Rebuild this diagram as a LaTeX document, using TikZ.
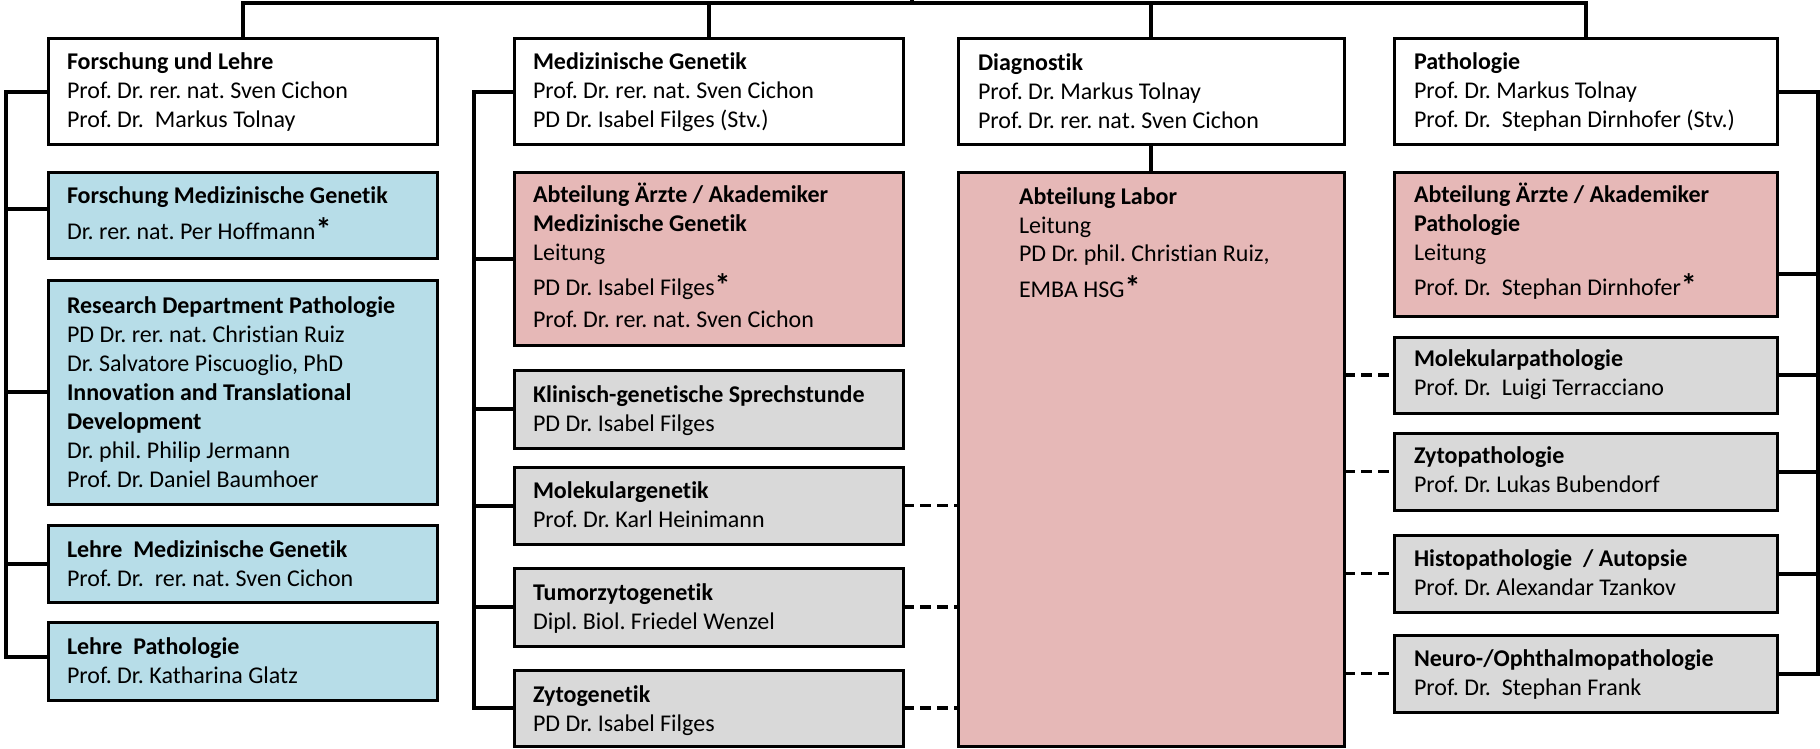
\documentclass[tikz,border=0pt]{standalone}
\usepackage{fontspec}
\setmainfont{Carlito}[Ligatures=NoCommon]
\usetikzlibrary{backgrounds}
\definecolor{bluefill}{HTML}{B7DDE8}
\definecolor{pinkfill}{HTML}{E6B8B7}
\definecolor{grayfill}{HTML}{D9D9D9}
\newcommand\stern{\smash{\raisebox{-1pt}{\fontsize{32}{32}\selectfont\bfseries *}}}
\newcommand\btxt[1]{\parbox[t]{380pt}{\fontsize{24}{29}\selectfont\frenchspacing\raggedright #1}}
\begin{document}
\begin{tikzpicture}[x=1pt,y=-1pt,
  box/.style={draw=black, line width=3pt, anchor=north west, inner sep=0pt, outer sep=0pt, rectangle},
  wbox/.style={box, fill=white},
  bbox/.style={box, fill=bluefill},
  pbox/.style={box, fill=pinkfill},
  gbox/.style={box, fill=grayfill},
  txt/.style={anchor=base west, inner sep=0pt, outer sep=0pt},
  conn/.style={line width=4pt},
  dconn/.style={line width=3.5pt, dash pattern=on 11pt off 6pt}]
\useasboundingbox (0,0) rectangle (1820,749);

% column 1
\node[wbox, minimum width=389pt, minimum height=106pt] (fl)  at (48,39) {};
\node[bbox, minimum width=389pt, minimum height=86pt]  (fmg) at (48,172) {};
\node[bbox, minimum width=389pt, minimum height=224pt] (rdp) at (48,280) {};
\node[bbox, minimum width=389pt, minimum height=77pt]  (lmg) at (48,525) {};
\node[bbox, minimum width=389pt, minimum height=78pt]  (lp)  at (48,622) {};
% column 2
\node[wbox, minimum width=389pt, minimum height=106pt] (mg)   at (514,39) {};
\node[pbox, minimum width=389pt, minimum height=173pt] (aam)  at (514,172) {};
\node[gbox, minimum width=389pt, minimum height=78pt]  (kgs)  at (514,370) {};
\node[gbox, minimum width=389pt, minimum height=77pt]  (molg) at (514,467) {};
\node[gbox, minimum width=389pt, minimum height=78pt]  (tzg)  at (514,568) {};
\node[gbox, minimum width=389pt, minimum height=76pt]  (zg)   at (514,670) {};
% column 3
\node[wbox, minimum width=386pt, minimum height=106pt] (dia) at (958,39) {};
\node[pbox, minimum width=386pt, minimum height=574pt] (lab) at (958,172) {};
% column 4
\node[wbox, minimum width=383pt, minimum height=106pt] (pat) at (1394,39) {};
\node[pbox, minimum width=383pt, minimum height=144pt] (aap) at (1394,172) {};
\node[gbox, minimum width=383pt, minimum height=76pt]  (mp)  at (1394,337) {};
\node[gbox, minimum width=383pt, minimum height=77pt]  (zp)  at (1394,433) {};
\node[gbox, minimum width=383pt, minimum height=77pt]  (hp)  at (1394,535) {};
\node[gbox, minimum width=383pt, minimum height=77pt]  (np)  at (1394,635) {};

% texts column 1
\node[txt] (flt) at ([xshift=19pt,yshift=-31pt]fl.north west) {\btxt{\textbf{Forschung und Lehre}\\ Prof. Dr. rer. nat. Sven Cichon\\ Prof. Dr.\ \ Markus Tolnay}};
\node[txt] (fmgt) at ([xshift=19pt,yshift=-31pt]fmg.north west) {\btxt{\textbf{Forschung Medizinische Genetik}\\[7pt] Dr. rer. nat. Per Hoffmann\stern}};
\node[txt] (rdpt) at ([xshift=19pt,yshift=-33pt]rdp.north west) {\btxt{\textbf{Research Department Pathologie}\\ PD Dr. rer. nat. Christian Ruiz\\ Dr. Salvatore Piscuoglio, PhD\\ \textbf{Innovation and Translational}\\ \textbf{Development}\\ Dr. phil. Philip Jermann\\ Prof. Dr. Daniel Baumhoer}};
\node[txt] (lmgt) at ([xshift=19pt,yshift=-32pt]lmg.north west) {\btxt{\textbf{Lehre\ \ Medizinische Genetik}\\ Prof. Dr.\ \ rer. nat. Sven Cichon}};
\node[txt] (lpt) at ([xshift=19pt,yshift=-32pt]lp.north west) {\btxt{\textbf{Lehre\ \ Pathologie}\\ Prof. Dr. Katharina Glatz}};
% texts column 2
\node[txt] (mgt) at ([xshift=19pt,yshift=-31pt]mg.north west) {\btxt{\textbf{Medizinische Genetik}\\ Prof. Dr. rer. nat. Sven Cichon\\ PD Dr. Isabel Filges (Stv.)}};
\node[txt] (aamt) at ([xshift=19pt,yshift=-30pt]aam.north west) {\btxt{\textbf{Abteilung Ärzte / Akademiker}\\ \textbf{Medizinische Genetik}\\ Leitung\\[6pt] PD Dr. Isabel Filges\stern\\[3pt] Prof. Dr. rer. nat. Sven Cichon}};
\node[txt] (kgst) at ([xshift=19pt,yshift=-32pt]kgs.north west) {\btxt{\textbf{Klinisch-genetische Sprechstunde}\\ PD Dr. Isabel Filges}};
\node[txt] (molgt) at ([xshift=19pt,yshift=-31pt]molg.north west) {\btxt{\textbf{Molekulargenetik}\\ Prof. Dr. Karl Heinimann}};
\node[txt] (tzgt) at ([xshift=19pt,yshift=-32pt]tzg.north west) {\btxt{\textbf{Tumorzytogenetik}\\ Dipl. Biol. Friedel Wenzel}};
\node[txt] (zgt) at ([xshift=19pt,yshift=-32pt]zg.north west) {\btxt{\textbf{Zytogenetik}\\ PD Dr. Isabel Filges}};
% texts column 3
\node[txt] (diat) at ([xshift=20pt,yshift=-32pt]dia.north west) {\btxt{\textbf{Diagnostik}\\ Prof. Dr. Markus Tolnay\\ Prof. Dr. rer. nat. Sven Cichon}};
\node[txt] (labt) at ([xshift=61pt,yshift=-32pt]lab.north west) {\btxt{\textbf{Abteilung Labor}\\ Leitung\\ PD Dr. phil. Christian Ruiz,\\[6pt] EMBA HSG\stern}};
% texts column 4
\node[txt] (patt) at ([xshift=20pt,yshift=-31pt]pat.north west) {\btxt{\textbf{Pathologie}\\ Prof. Dr. Markus Tolnay\\ Prof. Dr.\ \ Stephan Dirnhofer (Stv.)}};
\node[txt] (aapt) at ([xshift=20pt,yshift=-30pt]aap.north west) {\btxt{\textbf{Abteilung Ärzte / Akademiker}\\ \textbf{Pathologie}\\ Leitung\\[6pt] Prof. Dr.\ \ Stephan Dirnhofer\stern}};
\node[txt] (mpt) at ([xshift=20pt,yshift=-29pt]mp.north west) {\btxt{\textbf{Molekularpathologie}\\ Prof. Dr.\ \ Luigi Terracciano}};
\node[txt] (zpt) at ([xshift=20pt,yshift=-30pt]zp.north west) {\btxt{\textbf{Zytopathologie}\\ Prof. Dr. Lukas Bubendorf}};
\node[txt] (hpt) at ([xshift=20pt,yshift=-31pt]hp.north west) {\btxt{\textbf{Histopathologie\ \ / Autopsie}\\ Prof. Dr. Alexandar Tzankov}};
\node[txt] (npt) at ([xshift=20pt,yshift=-31pt]np.north west) {\btxt{\textbf{Neuro-/Ophthalmopathologie}\\ Prof. Dr.\ \ Stephan Frank}};

\begin{scope}[on background layer]
% top bar
\coordinate (topbar) at (912,3);
\coordinate (topend) at (912,0);
\draw[conn] (fl.north) -- (fl.north |- topbar) -- (pat.north |- topbar) -- (pat.north);
\draw[conn] (mg.north) -- (mg.north |- topbar);
\draw[conn] (dia.north) -- (dia.north |- topbar);
\draw[conn] (topend) -- (topbar);
\draw[conn] (dia.south) -- (lab.north);
% left bus
\coordinate (lbus) at (6,0);
\coordinate (fmgw) at ([yshift=6pt]fmg.west);
\coordinate (lpw) at ([yshift=4pt]lp.west);
\draw[conn] (fl.west) -- (fl.west -| lbus) -- (lpw -| lbus) -- (lpw);
\draw[conn] (fmgw) -- (fmgw -| lbus);
\draw[conn] (rdp.west) -- (rdp.west -| lbus);
\draw[conn] (lmg.west) -- (lmg.west -| lbus);
% middle bus
\coordinate (mbus) at (474,0);
\draw[conn] (mg.west) -- (mg.west -| mbus) -- (zg.west -| mbus) -- (zg.west);
\foreach \n in {aam,kgs,molg,tzg} \draw[conn] (\n.west) -- (\n.west -| mbus);
% right bus
\coordinate (rbus) at (1818,0);
\coordinate (aape) at ([yshift=-30pt]aap.east);
\draw[conn] (pat.east) -- (pat.east -| rbus) -- (np.east -| rbus) -- (np.east);
\draw[conn] (aape) -- (aape -| rbus);
\foreach \n in {mp,zp,hp} \draw[conn] (\n.east) -- (\n.east -| rbus);
% dashed links to Labor
\foreach \n in {molg,tzg,zg} \draw[dconn] (\n.east) -- (\n.east -| lab.west);
\foreach \n in {mp,zp,hp,np} \draw[dconn] (lab.east |- \n.west) -- (\n.west);
\end{scope}
\end{tikzpicture}
\end{document}
